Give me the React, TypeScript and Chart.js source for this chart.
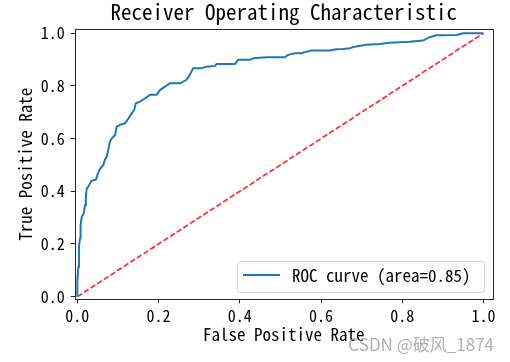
import React, { useEffect, useRef } from "react";
import { Chart, registerables } from "chart.js";

Chart.register(...registerables);

// ---- data ----
const fpr = [
  0, 0, 0.0025, 0.004, 0.0066, 0.008, 0.011, 0.016, 0.019, 0.021, 0.023, 0.027, 0.035, 0.046, 0.05,
  0.056, 0.064, 0.068, 0.072, 0.076, 0.08, 0.085, 0.093, 0.097, 0.105, 0.117, 0.126, 0.134, 0.14,
  0.144, 0.154, 0.167, 0.179, 0.195, 0.204, 0.216, 0.228, 0.253, 0.269, 0.277, 0.285, 0.306, 0.318,
  0.339, 0.343, 0.388, 0.396, 0.425, 0.433, 0.466, 0.511, 0.519, 0.536, 0.552, 0.564, 0.577, 0.622,
  0.638, 0.655, 0.671, 0.683, 0.712, 0.745, 0.769, 0.818, 0.851, 0.868, 0.884, 0.934, 0.95, 1.0,
];
const tpr = [
  0, 0.057, 0.114, 0.19, 0.222, 0.272, 0.304, 0.317, 0.348, 0.38, 0.41, 0.418, 0.44, 0.445, 0.465,
  0.485, 0.5, 0.52, 0.53, 0.555, 0.588, 0.601, 0.614, 0.645, 0.652, 0.658, 0.677, 0.696, 0.709,
  0.734, 0.74, 0.753, 0.766, 0.766, 0.785, 0.797, 0.81, 0.81, 0.823, 0.842, 0.867, 0.867, 0.873,
  0.876, 0.883, 0.883, 0.899, 0.899, 0.905, 0.909, 0.909, 0.918, 0.924, 0.924, 0.93, 0.934, 0.934,
  0.939, 0.94, 0.943, 0.949, 0.956, 0.959, 0.964, 0.968, 0.972, 0.985, 0.992, 0.993, 1.0, 1.0,
];
const diagX = [0, 1];
const diagY = [0, 1];
const xTicks = [0, 0.2, 0.4, 0.6, 0.8, 1.0];
const yTicks = [0, 0.2, 0.4, 0.6, 0.8, 1.0];
const titleText = "Receiver Operating Characteristic";
const xLabel = "False Positive Rate";
const yLabel = "True Positive Rate";
const rocLabel = "ROC curve (area=0.85)";
const watermark = "CSDN @破风_1874";

const MONO = '"Noto Sans Mono CJK SC", "DejaVu Sans Mono", monospace';

const decorPlugin = {
  id: "decor",
  afterDraw(chart: any) {
    const { ctx, chartArea } = chart;
    const { left, right, top, bottom } = chartArea;
    ctx.save();
    // frame
    ctx.strokeStyle = "#262626";
    ctx.lineWidth = 1;
    ctx.strokeRect(Math.round(left) + 0.5, Math.round(top) + 0.5, Math.round(right - left), Math.round(bottom - top));
    // title
    ctx.fillStyle = "#000";
    ctx.font = `21px ${MONO}`;
    ctx.textAlign = "center";
    ctx.textBaseline = "alphabetic";
    ctx.fillText(titleText, (left + right) / 2, 19.5);
    // legend
    const bx = 237, by = 261, bw = 247, bh = 31;
    ctx.beginPath();
    ctx.roundRect(bx + 0.5, by + 0.5, bw, bh, 3);
    ctx.fillStyle = "rgba(255,255,255,0.8)";
    ctx.fill();
    ctx.strokeStyle = "#d3d3d3";
    ctx.stroke();
    const ds = chart.data.datasets[0];
    ctx.beginPath();
    ctx.strokeStyle = ds.borderColor;
    ctx.lineWidth = 2;
    ctx.moveTo(243, 275);
    ctx.lineTo(280, 275);
    ctx.stroke();
    ctx.fillStyle = "#000";
    ctx.font = `17px ${MONO}`;
    ctx.textAlign = "left";
    ctx.textBaseline = "middle";
    ctx.fillText(ds.label, 292, 276);
    // watermark
    ctx.font = '17px "Noto Sans CJK SC", "Noto Sans", sans-serif';
    ctx.fillStyle = "rgba(150,150,150,0.75)";
    ctx.textAlign = "right";
    ctx.textBaseline = "middle";
    ctx.fillText(watermark, 494, 345);
    ctx.restore();
  },
};

export default function App() {
  const ref = useRef<HTMLCanvasElement | null>(null);
  useEffect(() => {
    document.body.style.margin = "0";
    const canvas = ref.current!;
    const chart = new Chart(canvas, {
      type: "scatter",
      data: {
        datasets: [
          {
            label: rocLabel,
            data: fpr.map((x, i) => ({ x, y: tpr[i] })),
            showLine: true,
            borderColor: "#1f77b4",
            backgroundColor: "#1f77b4",
            borderWidth: 2,
            pointRadius: 0,
            tension: 0,
          },
          {
            label: "diag",
            data: diagX.map((x, i) => ({ x, y: diagY[i] })),
            showLine: true,
            borderColor: "rgba(255,0,0,0.8)",
            borderWidth: 1.8,
            borderDash: [5.5, 2.4],
            pointRadius: 0,
          },
        ],
      },
      plugins: [decorPlugin],
      options: {
        responsive: false,
        animation: false,
        layout: { padding: { top: 29, right: 17, left: 0, bottom: 0 } },
        plugins: { legend: { display: false }, tooltip: { enabled: false }, title: { display: false } },
        scales: {
          x: {
            type: "linear",
            min: -0.0065,
            max: 1.0235,
            afterBuildTicks: (s: any) => {
              s.ticks = xTicks.map((v) => ({ value: v }));
            },
            afterFit: (s: any) => {
              s.height = 62.7;
            },
            ticks: {
              callback: (v: any) => Number(v).toFixed(1),
              color: "#000",
              font: { family: MONO, size: 16 },
              padding: 3,
              maxRotation: 0,
              autoSkip: false,
            },
            grid: { display: true, drawOnChartArea: false, drawTicks: true, tickLength: 4, color: "#262626" },
            border: { display: false },
            title: {
              display: true,
              text: xLabel,
              color: "#000",
              font: { family: MONO, size: 17 },
              padding: { top: 0, bottom: 17 },
            },
          },
          y: {
            type: "linear",
            min: -0.01,
            max: 1.016,
            afterBuildTicks: (s: any) => {
              s.ticks = yTicks.map((v) => ({ value: v }));
            },
            afterFit: (s: any) => {
              s.width = 74.7;
            },
            ticks: {
              callback: (v: any) => Number(v).toFixed(1),
              color: "#000",
              font: { family: MONO, size: 16 },
              padding: 6,
              autoSkip: false,
            },
            grid: { display: true, drawOnChartArea: false, drawTicks: true, tickLength: 4, color: "#262626" },
            border: { display: false },
            title: {
              display: true,
              text: yLabel,
              color: "#000",
              font: { family: MONO, size: 17 },
              padding: { top: 15, bottom: 0 },
            },
          },
        },
      },
    });
    return () => chart.destroy();
  }, []);
  return <canvas ref={ref} width={510} height={362} style={{ width: 510, height: 362, display: "block" }} />;
}
